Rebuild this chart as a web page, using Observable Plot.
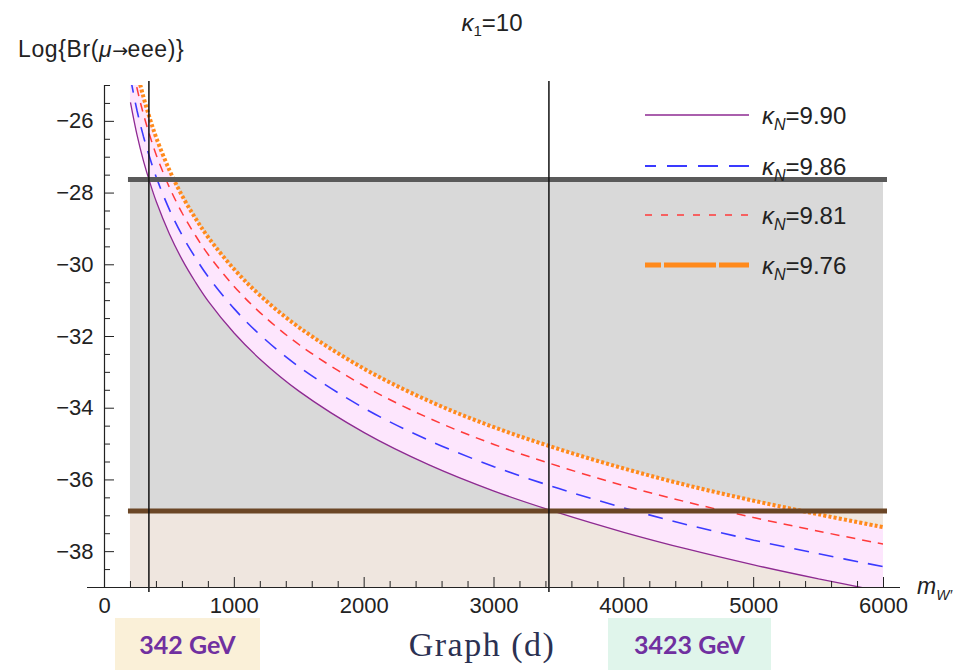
<!DOCTYPE html>
<html><head><meta charset="utf-8">
<script src="https://cdn.jsdelivr.net/npm/d3@7"></script>
<script src="https://cdn.jsdelivr.net/npm/@observablehq/plot@0.6"></script>
<style>
body{margin:0;background:#fff;}
#wrap{position:relative;width:979px;height:670px;overflow:hidden;font-family:"Liberation Sans",Arial,sans-serif;color:#222;}
#chart{position:absolute;left:0;top:0;}
</style></head><body>
<div id="wrap"><div id="chart"></div></div>
<script>
// ---- data ----
const mW = [200,250,300,350,400,500,600,700,800,1000,1200,1500,2000,2500,3000,3500,4000,4500,5000,5500,6000];
const logBr_990 = [-25.47,-26.37,-27.10,-27.71,-28.25,-29.14,-29.87,-30.48,-31.02,-31.91,-32.64,-33.53,-34.68,-35.58,-36.31,-36.92,-37.46,-37.94,-38.37,-38.76,-39.12];
const logBr_986 = [-24.79,-25.69,-26.42,-27.03,-27.57,-28.46,-29.19,-29.80,-30.34,-31.23,-31.96,-32.85,-34.00,-34.90,-35.63,-36.24,-36.78,-37.26,-37.68,-38.06,-38.42];
const logBr_981 = [-24.17,-25.07,-25.80,-26.41,-26.95,-27.84,-28.57,-29.18,-29.72,-30.61,-31.34,-32.23,-33.38,-34.28,-35.01,-35.62,-36.16,-36.63,-37.05,-37.43,-37.79];
const logBr_976 = [-23.69,-24.59,-25.32,-25.93,-26.47,-27.36,-28.09,-28.70,-29.24,-30.13,-30.86,-31.75,-32.90,-33.80,-34.53,-35.14,-35.68,-36.16,-36.58,-36.96,-37.32];
const kappaN = ["9.90","9.86","9.81","9.76"];
const upperLimit = -27.62;
const lowerLimit = -36.87;
const bandRange = [200, 6000];
const markedMasses = [342, 3423];
const markedLabels = ["342 GeV", "3423 GeV"];
const xTicks = [0,1000,2000,3000,4000,5000,6000];
const yTicks = [-26,-28,-30,-32,-34,-36,-38];
const xDomain = [0, 6000];
const yDomain = [-39, -25];

// ---- build ----
const keys = ["k990","k986","k981","k976"];
const seriesVals = [logBr_990, logBr_986, logBr_981, logBr_976];
const rows = mW.map((m, i) => {
  const r = {m};
  keys.forEach((k, j) => r[k] = seriesVals[j][i]);
  return r;
});
const lineStyle = {
  k990: {stroke: "#8e2a92", strokeWidth: 1.3},
  k986: {stroke: "#3a3aff", strokeWidth: 1.6, strokeDasharray: "15,10"},
  k981: {stroke: "#ff3a3a", strokeWidth: 1.5, strokeDasharray: "9,7"},
  k976: {stroke: "#ff8a1c", strokeWidth: 4, strokeDasharray: "3,2.2"}
};
const xMinor = d3.range(200, 6001, 200).filter(v => v % 1000 !== 0);
const yMinor = d3.range(-39, -24.9, 0.5).filter(v => !yTicks.includes(v) && v !== -39);

const W = 979, H = 620, mt = 85, mb = 33, ml = 104, mr = 96;
const fh = H - mt - mb, fw = W - ml - mr;
const axisColor = "#222";

const chart = Plot.plot({
  width: W, height: H, marginTop: mt, marginBottom: mb, marginLeft: ml, marginRight: mr,
  x: {domain: xDomain}, y: {domain: yDomain},
  style: {background: "transparent", fontFamily: "Liberation Sans, Arial, sans-serif", color: axisColor, overflow: "visible"},
  marks: [
    Plot.rect([bandRange], {x1: d => d[0], x2: d => d[1], y1: yDomain[0], y2: lowerLimit, fill: "#efe6df"}),
    Plot.rect([bandRange], {x1: d => d[0], x2: d => d[1], y1: lowerLimit, y2: upperLimit, fill: "#d9d9d9"}),
    Plot.areaY(rows, {x: "m", y1: "k990", y2: "k976", fill: "#fde6fd", curve: "catmull-rom", clip: true}),
    ...keys.map(k => Plot.line(rows, {x: "m", y: k, curve: "catmull-rom", clip: true, strokeLinecap: "butt", strokeLinejoin: "miter", ...lineStyle[k]})),
    Plot.ruleY([upperLimit], {x1: bandRange[0], x2: bandRange[1], stroke: "#5a5a5a", strokeWidth: 5, insetLeft: -2, insetRight: -4}),
    Plot.ruleY([lowerLimit], {x1: bandRange[0], x2: bandRange[1], stroke: "#6b4626", strokeWidth: 5, insetLeft: -2, insetRight: -4}),
    Plot.ruleX(markedMasses, {stroke: "#111", strokeWidth: 1.5, insetTop: -4, insetBottom: -5}),
    Plot.ruleX([xDomain[0]], {stroke: axisColor, strokeWidth: 1.2}),
    Plot.ruleY([yDomain[0]], {stroke: axisColor, strokeWidth: 1.2, insetLeft: -17, insetRight: -17}),
    Plot.ruleX(xMinor, {stroke: axisColor, strokeWidth: 1, insetTop: fh - 6}),
    Plot.ruleX(xTicks.filter(v => v !== 0), {stroke: axisColor, strokeWidth: 1, insetTop: fh - 10}),
    Plot.ruleY(yMinor, {stroke: axisColor, strokeWidth: 1, insetRight: fw - 6}),
    Plot.ruleY(yTicks, {stroke: axisColor, strokeWidth: 1, insetRight: fw - 10}),
    Plot.axisX({ticks: xTicks, tickSize: 0, tickPadding: 10, fontSize: 22, tickFormat: d3.format("d"), label: null}),
    Plot.axisY({ticks: yTicks, tickSize: 0, tickPadding: 11, fontSize: 22, tickFormat: d3.format("d"), label: null})
  ]
});
document.getElementById("chart").appendChild(chart);

// ---- titles, legend, annotations ----
const ov = d3.select("#wrap").append("svg")
  .attr("width", W).attr("height", 670)
  .style("position", "absolute").style("left", 0).style("top", 0)
  .style("font-family", "Liberation Sans, Arial, sans-serif");

// title
const t = ov.append("text").attr("x", 492).attr("y", 31).attr("text-anchor", "middle").attr("font-size", 24).attr("fill", "#222");
t.append("tspan").attr("font-style", "italic").text("κ");
t.append("tspan").attr("font-size", 15).attr("dy", 5).text("1");
t.append("tspan").attr("dy", -5).text("=10");

// y label
const yl = ov.append("text").attr("x", 18).attr("y", 57).attr("font-size", 23).attr("letter-spacing", 0.6).attr("fill", "#222");
yl.append("tspan").text("Log{Br(");
yl.append("tspan").attr("font-style", "italic").text("μ");
yl.append("tspan").attr("font-family", "DejaVu Sans, sans-serif").attr("font-size", 19).attr("letter-spacing", -0.5).text("→");
yl.append("tspan").text("eee)}");

// x label
const xl = ov.append("text").attr("x", 917).attr("y", 594).attr("font-size", 23).attr("fill", "#222").attr("font-style", "italic");
xl.append("tspan").text("m");
xl.append("tspan").attr("font-size", 14).attr("dy", 6).text("W′");

// legend
const legY = [115, 166, 215, 265];
const legStyle = {
  k990: {w: 1.5, dash: null, off: 0},
  k986: {w: 1.8, dash: "20,11", off: 9},
  k981: {w: 1.6, dash: "7,9", off: 0},
  k976: {w: 5, dash: "52,3", off: 36}
};
keys.forEach((k, i) => {
  const g = ov.append("g");
  const ls = legStyle[k];
  g.append("line").attr("x1", 645).attr("x2", 749).attr("y1", legY[i]).attr("y2", legY[i])
    .attr("stroke", lineStyle[k].stroke).attr("stroke-width", ls.w)
    .attr("stroke-dasharray", ls.dash).attr("stroke-dashoffset", ls.off);
  const tx = g.append("text").attr("x", 762).attr("y", legY[i] + 9).attr("font-size", 24).attr("fill", "#222");
  tx.append("tspan").attr("font-style", "italic").text("κ");
  tx.append("tspan").attr("font-style", "italic").attr("font-size", 16).attr("dy", 6).text("N");
  tx.append("tspan").attr("dy", -6).text("=" + kappaN[i]);
});

// caption
ov.append("text").attr("x", 482).attr("y", 656).attr("text-anchor", "middle")
  .attr("font-family", "Liberation Serif, serif").attr("font-size", 34).attr("letter-spacing", 1.5)
  .attr("fill", "#2b3152").text("Graph (d)");

// GeV boxes
const boxes = [
  {x: 115, w: 145, fill: "#faf0d8"},
  {x: 608, w: 163, fill: "#e0f5eb"}
];
boxes.forEach((b, i) => {
  ov.append("rect").attr("x", b.x).attr("y", 618).attr("width", b.w).attr("height", 52).attr("fill", b.fill);
  ov.append("text").attr("x", b.x + b.w / 2).attr("y", 654).attr("text-anchor", "middle")
    .attr("font-family", "Lato, Noto Sans, sans-serif").attr("font-weight", "bold").attr("font-size", 25)
    .attr("fill", "#7030a0").text(markedLabels[i]);
});
</script>
</body></html>
